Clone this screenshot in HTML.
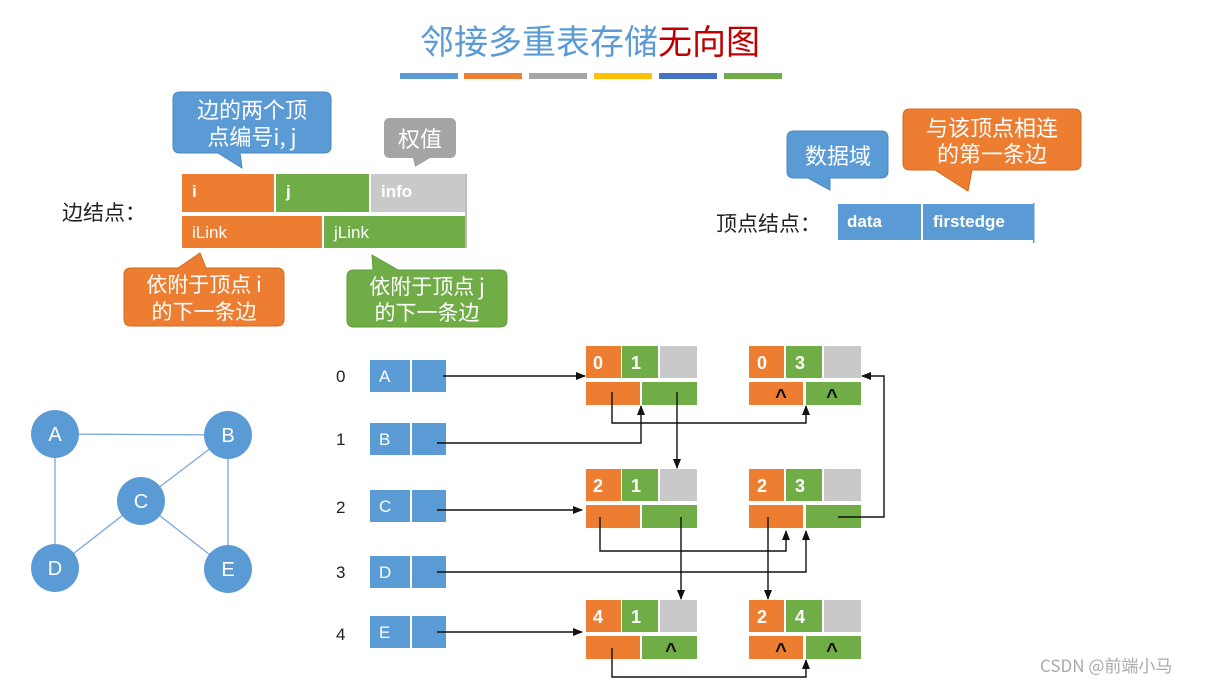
<!DOCTYPE html>
<html><head><meta charset="utf-8"><style>
html,body{margin:0;padding:0;background:#fff;width:1225px;height:685px;overflow:hidden}
svg{display:block}
text{font-family:"Liberation Sans","Noto Sans CJK SC",sans-serif}
.cjk{font-family:"Noto Sans CJK SC","WenQuanYi Zen Hei",sans-serif}
.b{font-weight:bold;fill:#fff}
.ln{stroke:#111;stroke-width:1.4;fill:none}
.c{font-size:20px;font-weight:bold;fill:#111;text-anchor:middle}
</style></head><body>
<svg width="1225" height="685" viewBox="0 0 1225 685" xmlns="http://www.w3.org/2000/svg">
<defs>
<marker id="ar" markerWidth="10" markerHeight="10" refX="9" refY="5" orient="auto" markerUnits="userSpaceOnUse">
<path d="M0,1 L10,5 L0,9 z" fill="#111"/></marker>
</defs>
<text x="420" y="54" font-size="34" class="cjk" fill="#5B9BD5">邻接多重表存储<tspan fill="#C00000">无向图</tspan></text>
<rect x="400" y="73" width="58" height="6" fill="#5B9BD5"/>
<rect x="464" y="73" width="58" height="6" fill="#ED7D31"/>
<rect x="529" y="73" width="58" height="6" fill="#A5A5A5"/>
<rect x="594" y="73" width="58" height="6" fill="#FFC000"/>
<rect x="659" y="73" width="58" height="6" fill="#4472C4"/>
<rect x="724" y="73" width="58" height="6" fill="#70AD47"/>

<text x="62" y="220" font-size="21" class="cjk" fill="#222">边结点：</text>
<rect x="182" y="174" width="92" height="38" fill="#ED7D31"/>
<rect x="276" y="174" width="93" height="38" fill="#70AD47"/>
<rect x="371" y="174" width="94" height="38" fill="#C9C9C9"/>
<rect x="182" y="216" width="140" height="32" fill="#ED7D31"/>
<rect x="324" y="216" width="141" height="32" fill="#70AD47"/>
<rect x="465" y="174" width="2" height="74" fill="#bbb"/>
<text x="192" y="197" font-size="17" class="b">i</text>
<text x="286" y="197" font-size="17" class="b">j</text>
<text x="381" y="197" font-size="17" class="b">info</text>
<text x="192" y="238" font-size="17" fill="#fff">iLink</text>
<text x="334" y="238" font-size="17" fill="#fff">jLink</text>

<path d="M180,92 H324 Q331,92 331,99 V146 Q331,153 324,153 H240 L242,168 L218,153 H180 Q173,153 173,146 V99 Q173,92 180,92 Z" fill="#5B9BD5" stroke="#4a87c0"/>
<text x="252" y="118" font-size="22" class="cjk" fill="#fff" text-anchor="middle">边的两个顶</text>
<text x="252" y="145" font-size="22" class="cjk" fill="#fff" text-anchor="middle">点编号i, j</text>

<path d="M390,118 H450 Q456,118 456,124 V152 Q456,158 450,158 H430 L415,167 L413,158 H390 Q384,158 384,152 V124 Q384,118 390,118 Z" fill="#A5A5A5"/>
<text x="420" y="147" font-size="22" class="cjk" fill="#fff" text-anchor="middle">权值</text>

<path d="M131,268 H178 L200,253 L206,268 H277 Q284,268 284,275 V319 Q284,326 277,326 H131 Q124,326 124,319 V275 Q124,268 131,268 Z" fill="#ED7D31" stroke="#d06a20"/>
<text x="204" y="292" font-size="21" class="cjk" fill="#fff" text-anchor="middle">依附于顶点 i</text>
<text x="204" y="319" font-size="21" class="cjk" fill="#fff" text-anchor="middle">的下一条边</text>

<path d="M354,270 H373 L372,255 L398,270 H500 Q507,270 507,277 V320 Q507,327 500,327 H354 Q347,327 347,320 V277 Q347,270 354,270 Z" fill="#70AD47" stroke="#5f9a3a"/>
<text x="427" y="294" font-size="21" class="cjk" fill="#fff" text-anchor="middle">依附于顶点 j</text>
<text x="427" y="320" font-size="21" class="cjk" fill="#fff" text-anchor="middle">的下一条边</text>

<text x="716" y="231" font-size="21" class="cjk" fill="#222">顶点结点：</text>
<rect x="838" y="204" width="83" height="36" fill="#5B9BD5"/>
<rect x="923" y="204" width="110" height="36" fill="#5B9BD5"/>
<rect x="1033" y="203" width="1.5" height="40" fill="#5B9BD5"/>
<text x="847" y="227" font-size="17" class="b">data</text>
<text x="933" y="227" font-size="17" class="b">firstedge</text>

<path d="M794,131 H881 Q888,131 888,138 V171 Q888,178 881,178 H830 L830,190 L808,178 H794 Q787,178 787,171 V138 Q787,131 794,131 Z" fill="#5B9BD5" stroke="#4a87c0"/>
<text x="838" y="164" font-size="22" class="cjk" fill="#fff" text-anchor="middle">数据域</text>

<path d="M910,109 H1074 Q1081,109 1081,116 V163 Q1081,170 1074,170 H972 L968,191 L935,170 H910 Q903,170 903,163 V116 Q903,109 910,109 Z" fill="#ED7D31" stroke="#d06a20"/>
<text x="992" y="136" font-size="22" class="cjk" fill="#fff" text-anchor="middle">与该顶点相连</text>
<text x="992" y="162" font-size="22" class="cjk" fill="#fff" text-anchor="middle">的第一条边</text>

<g stroke="#7aa9d8" stroke-width="1.3">
<line x1="55" y1="434" x2="228" y2="435"/>
<line x1="55" y1="434" x2="55" y2="568"/>
<line x1="228" y1="435" x2="228" y2="569"/>
<line x1="228" y1="435" x2="141" y2="501"/>
<line x1="141" y1="501" x2="55" y2="568"/>
<line x1="141" y1="501" x2="228" y2="569"/>
</g>
<g fill="#5B9BD5">
<circle cx="55" cy="434" r="24"/><circle cx="228" cy="435" r="24"/>
<circle cx="141" cy="501" r="24"/><circle cx="55" cy="568" r="24"/><circle cx="228" cy="569" r="24"/>
</g>
<g font-size="20" fill="#fff" text-anchor="middle">
<text x="55" y="441">A</text><text x="228" y="442">B</text><text x="141" y="508">C</text>
<text x="55" y="575">D</text><text x="228" y="576">E</text>
</g>

<g font-size="17" fill="#222">
<text x="336" y="382">0</text><text x="336" y="445">1</text><text x="336" y="513">2</text>
<text x="336" y="578">3</text><text x="336" y="640">4</text>
</g>
<g fill="#5B9BD5">
<rect x="370" y="360" width="40" height="32"/><rect x="412" y="360" width="34" height="32"/>
<rect x="370" y="423" width="40" height="32"/><rect x="412" y="423" width="34" height="32"/>
<rect x="370" y="490" width="40" height="32"/><rect x="412" y="490" width="34" height="32"/>
<rect x="370" y="556" width="40" height="32"/><rect x="412" y="556" width="34" height="32"/>
<rect x="370" y="616" width="40" height="32"/><rect x="412" y="616" width="34" height="32"/>
</g>
<g font-size="17" fill="#fff">
<text x="379" y="382">A</text><text x="379" y="445">B</text><text x="379" y="512">C</text>
<text x="379" y="578">D</text><text x="379" y="638">E</text>
</g>

<g>
<rect x="586" y="346" width="35" height="32" fill="#ED7D31"/><rect x="622" y="346" width="36" height="32" fill="#70AD47"/><rect x="660" y="346" width="37" height="32" fill="#C9C9C9"/>
<rect x="586" y="382" width="54" height="23" fill="#ED7D31"/><rect x="642" y="382" width="55" height="23" fill="#70AD47"/>
<text x="593" y="369" font-size="18" class="b">0</text><text x="631" y="369" font-size="18" class="b">1</text>

<rect x="749" y="346" width="35" height="32" fill="#ED7D31"/><rect x="786" y="346" width="36" height="32" fill="#70AD47"/><rect x="824" y="346" width="37" height="32" fill="#C9C9C9"/>
<rect x="749" y="382" width="54" height="23" fill="#ED7D31"/><rect x="806" y="382" width="55" height="23" fill="#70AD47"/>
<text x="757" y="369" font-size="18" class="b">0</text><text x="795" y="369" font-size="18" class="b">3</text>
<text x="781" y="403" class="c">^</text><text x="832" y="403" class="c">^</text>

<rect x="586" y="469" width="35" height="32" fill="#ED7D31"/><rect x="622" y="469" width="36" height="32" fill="#70AD47"/><rect x="660" y="469" width="37" height="32" fill="#C9C9C9"/>
<rect x="586" y="505" width="54" height="23" fill="#ED7D31"/><rect x="642" y="505" width="55" height="23" fill="#70AD47"/>
<text x="593" y="492" font-size="18" class="b">2</text><text x="631" y="492" font-size="18" class="b">1</text>

<rect x="749" y="469" width="35" height="32" fill="#ED7D31"/><rect x="786" y="469" width="36" height="32" fill="#70AD47"/><rect x="824" y="469" width="37" height="32" fill="#C9C9C9"/>
<rect x="749" y="505" width="54" height="23" fill="#ED7D31"/><rect x="806" y="505" width="55" height="23" fill="#70AD47"/>
<text x="757" y="492" font-size="18" class="b">2</text><text x="795" y="492" font-size="18" class="b">3</text>

<rect x="586" y="600" width="35" height="32" fill="#ED7D31"/><rect x="622" y="600" width="36" height="32" fill="#70AD47"/><rect x="660" y="600" width="37" height="32" fill="#C9C9C9"/>
<rect x="586" y="636" width="54" height="23" fill="#ED7D31"/><rect x="642" y="636" width="55" height="23" fill="#70AD47"/>
<text x="593" y="623" font-size="18" class="b">4</text><text x="631" y="623" font-size="18" class="b">1</text>
<text x="671" y="657" class="c">^</text>

<rect x="749" y="600" width="35" height="32" fill="#ED7D31"/><rect x="786" y="600" width="36" height="32" fill="#70AD47"/><rect x="824" y="600" width="37" height="32" fill="#C9C9C9"/>
<rect x="749" y="636" width="54" height="23" fill="#ED7D31"/><rect x="806" y="636" width="55" height="23" fill="#70AD47"/>
<text x="757" y="623" font-size="18" class="b">2</text><text x="795" y="623" font-size="18" class="b">4</text>
<text x="781" y="657" class="c">^</text><text x="832" y="657" class="c">^</text>
</g>

<g class="ln">
<polyline points="443,376 585,376" marker-end="url(#ar)"/>
<polyline points="437,443 641,443 641,406" marker-end="url(#ar)"/>
<polyline points="612,392 612,423 806,423 806,406" marker-end="url(#ar)"/>
<polyline points="677,392 677,468" marker-end="url(#ar)"/>
<polyline points="437,510 582,510" marker-end="url(#ar)"/>
<polyline points="600,517 600,551 786,551 786,531" marker-end="url(#ar)"/>
<polyline points="681,517 681,599" marker-end="url(#ar)"/>
<polyline points="437,572 806,572 806,531" marker-end="url(#ar)"/>
<polyline points="768,517 768,599" marker-end="url(#ar)"/>
<polyline points="838,517 884,517 884,376 862,376" marker-end="url(#ar)"/>
<polyline points="437,632 582,632" marker-end="url(#ar)"/>
<polyline points="612,648 612,677 806,677 806,660" marker-end="url(#ar)"/>
</g>

<text x="1040" y="672" font-size="17" class="cjk" fill="#aaa">CSDN @前端小马</text>
</svg>
</body></html>
